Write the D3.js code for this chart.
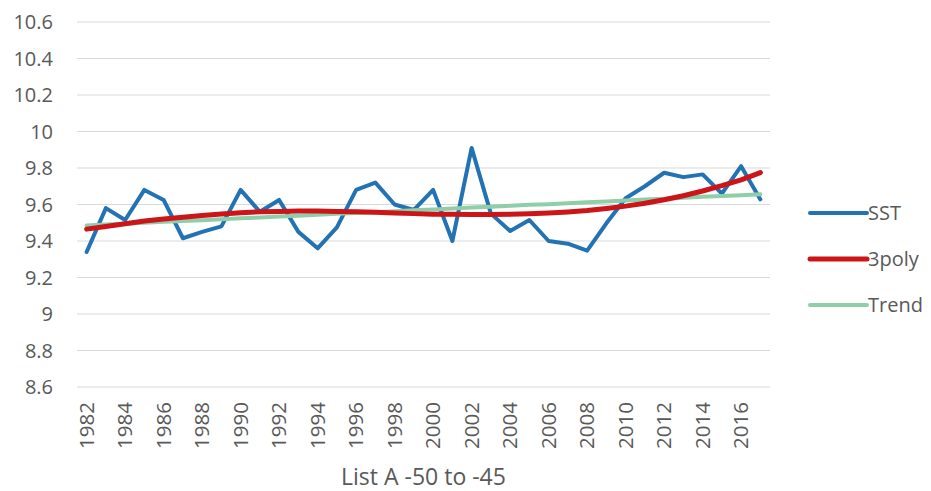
<!DOCTYPE html>
<html>
<head>
<meta charset="utf-8">
<script src="https://cdn.jsdelivr.net/npm/d3@7"></script>
<style>
  body { margin: 0; background: #fff; }
  text { font-family: "Open Sans", sans-serif; fill: #595959; }
</style>
</head>
<body>
<div id="chart"></div>
<script>
// chart data
const years = d3.range(1982, 2018);
const yTicks = [8.6, 8.8, 9, 9.2, 9.4, 9.6, 9.8, 10, 10.2, 10.4, 10.6];

const sst = [9.34, 9.58, 9.515, 9.68, 9.625, 9.415, 9.45, 9.48, 9.68, 9.56,
             9.625, 9.45, 9.36, 9.475, 9.68, 9.72, 9.60, 9.57, 9.68, 9.40,
             9.91, 9.55, 9.455, 9.515, 9.40, 9.385, 9.347, 9.497, 9.634, 9.70,
             9.774, 9.75, 9.765, 9.66, 9.81, 9.628];

const poly3 = [9.465, 9.48, 9.495, 9.51, 9.52, 9.53, 9.54, 9.548, 9.555, 9.56,
               9.562, 9.564, 9.564, 9.562, 9.56, 9.557, 9.553, 9.55, 9.547, 9.546,
               9.545, 9.545, 9.546, 9.549, 9.553, 9.559, 9.567, 9.578, 9.591, 9.607,
               9.626, 9.648, 9.674, 9.703, 9.735, 9.775];

const trend = [9.485, 9.490, 9.495, 9.500, 9.505, 9.510, 9.514, 9.519, 9.524, 9.529,
               9.534, 9.539, 9.544, 9.549, 9.554, 9.558, 9.563, 9.568, 9.573, 9.578,
               9.583, 9.588, 9.593, 9.598, 9.602, 9.607, 9.612, 9.617, 9.622, 9.627,
               9.632, 9.637, 9.642, 9.646, 9.651, 9.656];

const series = [
    { name: "SST",   values: sst,   color: "#2372b4", width: 4 },
    { name: "3poly", values: poly3, color: "#cc1518", width: 5 },
    { name: "Trend", values: trend, color: "#8ecfa9", width: 4 }
];

const W = 931, H = 491;
const margin = { top: 22, right: 161, bottom: 104, left: 77 };
const width = W - margin.left - margin.right;
const height = H - margin.top - margin.bottom;

const svg = d3.select("#chart").append("svg")
    .attr("width", W)
    .attr("height", H);

const g = svg.append("g")
    .attr("transform", `translate(${margin.left},${margin.top})`);

const x = d3.scaleBand().domain(years).range([0, width]);
const y = d3.scaleLinear().domain([8.6, 10.6]).range([height, 0]);
const cx = d => x(d) + x.bandwidth() / 2;

// gridlines
g.append("g")
    .selectAll("line")
    .data(yTicks)
    .join("line")
    .attr("x1", 0)
    .attr("x2", width)
    .attr("y1", d => y(d))
    .attr("y2", d => y(d))
    .attr("stroke", "#d9d9d9")
    .attr("stroke-width", 1);

// y axis labels
g.append("g")
    .selectAll("text")
    .data(yTicks)
    .join("text")
    .attr("x", -24)
    .attr("y", d => y(d))
    .attr("dy", "0.35em")
    .attr("text-anchor", "end")
    .attr("font-size", 20)
    .text(d => d);

// x axis labels, every second year, rotated
g.append("g")
    .selectAll("text")
    .data(years.filter(d => d % 2 === 0))
    .join("text")
    .attr("transform", d => `translate(${cx(d)},${height + 15}) rotate(-90)`)
    .attr("dy", "0.35em")
    .attr("text-anchor", "end")
    .attr("font-size", 20.5)
    .text(d => d);

// axis title
svg.append("text")
    .attr("x", margin.left + width / 2)
    .attr("y", 485)
    .attr("text-anchor", "middle")
    .attr("font-size", 23)
    .text("List A -50 to -45");

// lines
const line = d3.line()
    .x((d, i) => cx(years[i]))
    .y(d => y(d));

const drawOrder = [series[0], series[2], series[1]];
g.append("g")
    .selectAll("path")
    .data(drawOrder)
    .join("path")
    .attr("fill", "none")
    .attr("stroke", d => d.color)
    .attr("stroke-width", d => d.width)
    .attr("stroke-linejoin", "round")
    .attr("stroke-linecap", "round")
    .attr("d", d => line(d.values));

// legend
const legend = svg.append("g")
    .selectAll("g")
    .data(series)
    .join("g")
    .attr("transform", (d, i) => `translate(810,${213 + i * 46})`);

legend.append("line")
    .attr("x1", 0)
    .attr("x2", 57)
    .attr("stroke", d => d.color)
    .attr("stroke-width", d => d.width)
    .attr("stroke-linecap", "round");

legend.append("text")
    .attr("x", 58)
    .attr("dy", "0.35em")
    .attr("font-size", 20)
    .text(d => d.name);
</script>
</body>
</html>
